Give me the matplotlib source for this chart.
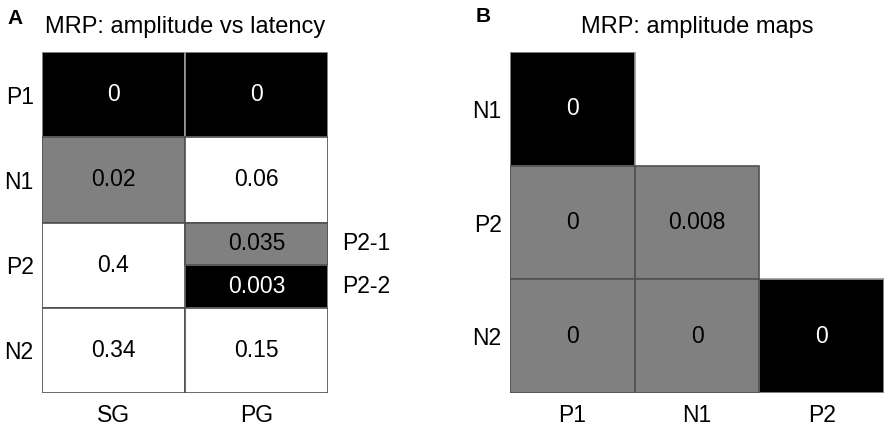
import matplotlib.pyplot as plt
from matplotlib.patches import Rectangle

plt.rcParams['font.family'] = ['Liberation Sans', 'DejaVu Sans']

# panel A: amplitude vs latency (p-values)
rows_a = ['P1', 'N1', 'P2', 'N2']
cols_a = ['SG', 'PG']
vals_sg = ['0', '0.02', '0.4', '0.34']
vals_pg = ['0', '0.06', ('0.035', '0.003'), '0.15']
shade_sg = ['k', 'g', 'w', 'w']
shade_pg = ['k', 'w', ('g', 'k'), 'w']
sub_labels = ['P2-1', 'P2-2']

# panel B: amplitude maps (lower triangle)
rows_b = ['N1', 'P2', 'N2']
cols_b = ['P1', 'N1', 'P2']
vals_b = [['0'], ['0', '0.008'], ['0', '0', '0']]
shade_b = [['k'], ['g', 'g'], ['g', 'g', 'k']]

FILL = {'k': 'black', 'g': '#808080', 'w': 'white'}
TXT = {'k': 'white', 'g': 'black', 'w': 'black'}
FS = 16.5


def cell(ax, x, y, w, h, label, shade):
    edge = '#9a9a9a' if shade == 'k' else '#505050'
    z = 1 if shade == 'k' else 2
    ax.add_patch(Rectangle((x, y), w, h, facecolor=FILL[shade], edgecolor=edge,
                           linewidth=1.2, zorder=z))
    ax.text(x + w / 2, y + h / 2, label, ha='center', va='center',
            color=TXT[shade], fontsize=FS, zorder=3)


W, H = 892, 429
fig = plt.figure(figsize=(W / 100, H / 100), dpi=100)

# ---- panel A
axA = fig.add_axes([42 / W, 36 / H, 286 / W, 341 / H])
axA.set_xlim(0, len(cols_a))
axA.set_ylim(len(rows_a), 0)
for i in range(len(rows_a)):
    cell(axA, 0, i, 1, 1, vals_sg[i], shade_sg[i])
    if isinstance(vals_pg[i], tuple):
        for k, (v, s) in enumerate(zip(vals_pg[i], shade_pg[i])):
            cell(axA, 1, i + k * 0.5, 1, 0.5, v, s)
            axA.text(len(cols_a) + 0.1, i + k * 0.5 + 0.25, sub_labels[k],
                     ha='left', va='center', fontsize=FS, clip_on=False)
    else:
        cell(axA, 1, i, 1, 1, vals_pg[i], shade_pg[i])
axA.set_yticks([i + 0.5 for i in range(len(rows_a))], rows_a, fontsize=FS)
axA.set_xticks([j + 0.5 for j in range(len(cols_a))], cols_a, fontsize=FS)
axA.tick_params(axis='y', length=0, pad=6)
axA.tick_params(axis='x', length=0, pad=8)
for s in axA.spines.values():
    s.set_visible(False)

# ---- panel B
axB = fig.add_axes([510 / W, 36 / H, 374 / W, 341 / H])
axB.set_xlim(0, len(cols_b))
axB.set_ylim(len(rows_b), 0)
for i, (row_v, row_s) in enumerate(zip(vals_b, shade_b)):
    for j, (v, s) in enumerate(zip(row_v, row_s)):
        cell(axB, j, i, 1, 1, v, s)
axB.set_yticks([i + 0.5 for i in range(len(rows_b))], rows_b, fontsize=FS)
axB.set_xticks([j + 0.5 for j in range(len(cols_b))], cols_b, fontsize=FS)
axB.tick_params(axis='y', length=0, pad=6)
axB.tick_params(axis='x', length=0, pad=8)
for s in axB.spines.values():
    s.set_visible(False)

# titles and panel letters
fig.text(7 / W, 1 - 18 / H, 'A', fontsize=15, fontweight='bold', va='center')
fig.text(185 / W, 1 - 27 / H, 'MRP: amplitude vs latency', fontsize=17,
         ha='center', va='center')
fig.text(476 / W, 1 - 17 / H, 'B', fontsize=15, fontweight='bold', va='center')
fig.text(697 / W, 1 - 27 / H, 'MRP: amplitude maps', fontsize=17,
         ha='center', va='center')

fig.savefig('out.png', dpi=100)
